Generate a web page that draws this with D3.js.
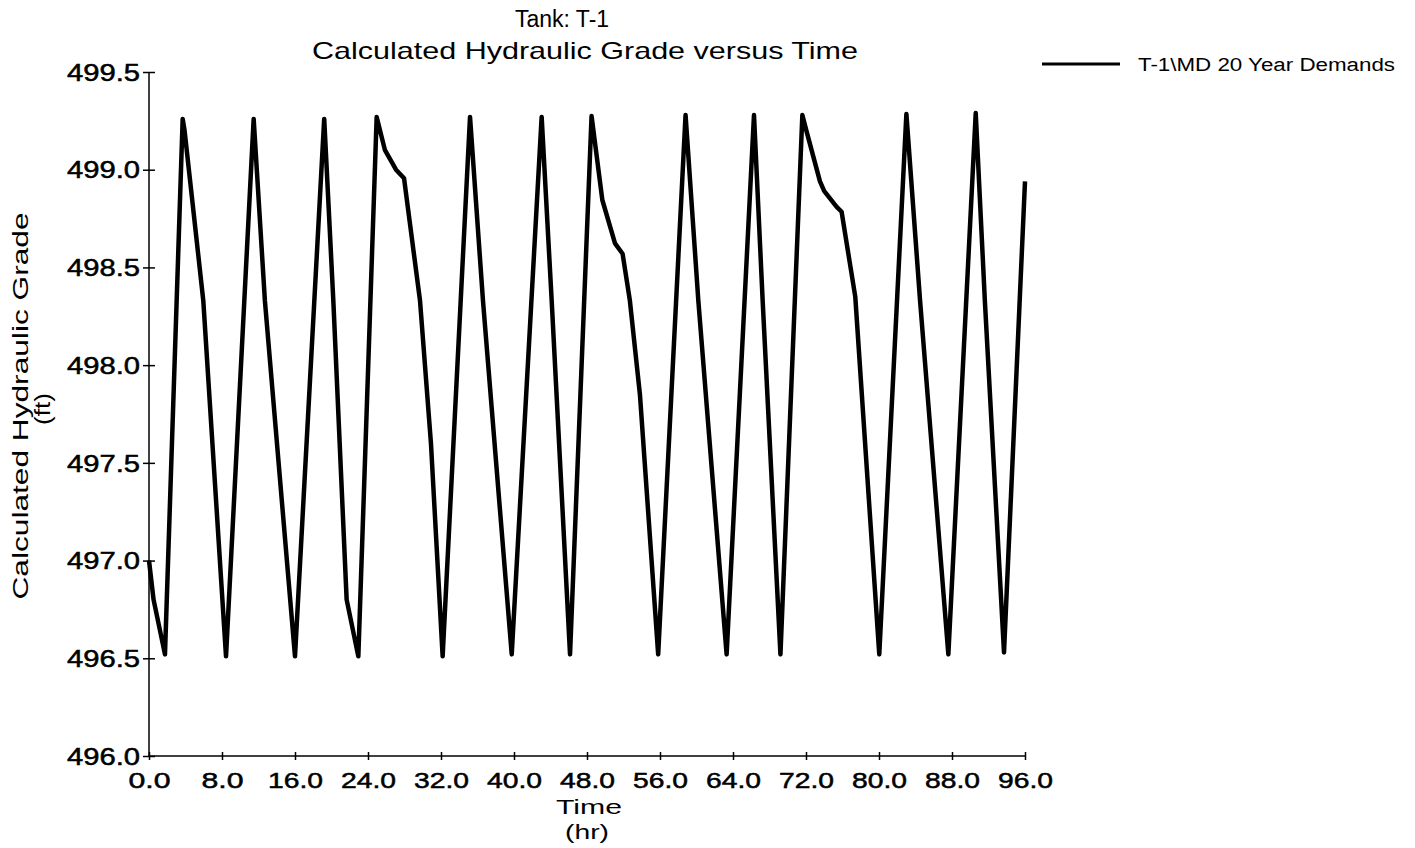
<!DOCTYPE html>
<html>
<head>
<meta charset="utf-8">
<script src="https://cdn.jsdelivr.net/npm/d3@7"></script>
<style>
  body { margin: 0; background: #fff; }
  text { font-family: "Liberation Sans", Arial, sans-serif; fill: #000; }
</style>
</head>
<body>
<div id="chart"></div>
<script>
// values (hours, feet)
var timeHrs = [0, 0.5, 1.75, 3.69, 3.9, 5.95, 8.44, 11.47, 12.7, 16.0,
  19.2, 20.2, 21.66, 22.94, 24.95, 25.86, 27.07, 27.95, 29.7, 30.9, 32.18,
  35.18, 36.6, 39.75, 43.03, 44.13, 46.14, 48.5, 49.68, 51.07, 51.9, 52.7,
  53.8, 55.8, 58.8, 60.2, 63.3, 66.3, 67.25, 69.2, 71.6, 72.07, 73.53, 74.0,
  75.36, 75.9, 77.4, 80.03, 83.0, 84.5, 87.6, 90.6, 91.6, 93.7, 96.0];
var gradeFt = [497.0, 496.8, 496.52, 499.26, 499.2, 498.33, 496.51, 499.26, 498.33, 496.51,
  499.26, 498.33, 496.8, 496.51, 499.27, 499.1, 499.0, 498.956, 498.33, 497.6, 496.51,
  499.27, 498.33, 496.52, 499.27, 498.33, 496.52, 499.275, 498.845, 498.623, 498.57, 498.33,
  497.85, 496.52, 499.28, 498.33, 496.52, 499.28, 498.33, 496.52, 499.28, 499.195, 498.94, 498.89,
  498.81, 498.785, 498.35, 496.52, 499.285, 498.33, 496.52, 499.29, 498.33, 496.53, 498.94];

var xTicks = [0, 8, 16, 24, 32, 40, 48, 56, 64, 72, 80, 88, 96];
var yTicks = [496.0, 496.5, 497.0, 497.5, 498.0, 498.5, 499.0, 499.5];

var titleLines = ["Tank: T-1", "Calculated Hydraulic Grade versus Time"];
var yTitleLines = ["Calculated Hydraulic Grade", "(ft)"];
var xTitleLines = ["Time", "(hr)"];
var seriesName = "T-1\\MD 20 Year Demands";

var svgWidth = 1415;
var svgHeight = 848;

var margin = { top: 72, right: 390, bottom: 92, left: 149 };
var width = svgWidth - margin.left - margin.right;
var height = svgHeight - margin.top - margin.bottom;

var svg = d3.select("#chart")
  .append("svg")
  .attr("width", svgWidth)
  .attr("height", svgHeight);

var chartGroup = svg.append("g")
  .attr("transform", `translate(${margin.left}, ${margin.top})`);

// scanned text is wider than Arial, so stretch each label to its measured width
function stretch(sel, w) {
  sel.each(function() {
    var t = d3.select(this);
    var target = typeof w === "function" ? w(t.text()) : w;
    t.attr("textLength", target).attr("lengthAdjust", "spacingAndGlyphs");
  });
}

var xLinearScale = d3.scaleLinear().domain([0, 96]).range([0, width]);
var yLinearScale = d3.scaleLinear().domain([496, 499.5]).range([height, 0]);

var bottomAxis = d3.axisBottom(xLinearScale)
  .tickValues(xTicks)
  .tickFormat(d3.format(".1f"))
  .tickSize(4)
  .tickPadding(12);
var leftAxis = d3.axisLeft(yLinearScale)
  .tickValues(yTicks)
  .tickFormat(d3.format(".1f"))
  .tickSize(6)
  .tickPadding(3);

var xAxis = chartGroup.append("g")
  .attr("transform", `translate(0, ${height})`)
  .call(bottomAxis);
var yAxis = chartGroup.append("g")
  .call(leftAxis);

// ticks cross the axis line in the original
xAxis.selectAll(".tick line").attr("y1", -4).attr("y2", 4);
yAxis.selectAll(".tick line").attr("x1", -6).attr("x2", 6);
svg.selectAll(".domain").attr("d", null);
xAxis.append("line").attr("x1", 0).attr("x2", width).attr("stroke", "#000").attr("stroke-width", 1.5);
yAxis.append("line").attr("y1", 0).attr("y2", height).attr("stroke", "#000").attr("stroke-width", 1.5);
svg.selectAll(".tick line").attr("stroke", "#000").attr("stroke-width", 1.5);

xAxis.selectAll(".tick text")
  .attr("font-size", 22)
  .attr("font-family", "Liberation Sans, Arial, sans-serif")
  .attr("fill", "#000")
  .attr("stroke", "#000")
  .attr("stroke-width", 0.5);
stretch(xAxis.selectAll(".tick text"), s => s.length > 3 ? 55 : 42);

yAxis.selectAll(".tick text")
  .attr("font-size", 23)
  .attr("font-family", "Liberation Sans, Arial, sans-serif")
  .attr("fill", "#000")
  .attr("stroke", "#000")
  .attr("stroke-width", 0.5)
  .attr("dy", "0.36em");
stretch(yAxis.selectAll(".tick text"), 73);

// the series
var line = d3.line()
  .x((d, i) => xLinearScale(timeHrs[i]))
  .y(d => yLinearScale(d));

chartGroup.append("path")
  .datum(gradeFt)
  .attr("fill", "none")
  .attr("stroke", "#000")
  .attr("stroke-width", 4.5)
  .attr("stroke-linejoin", "round")
  .attr("d", line);

// titles
svg.append("text")
  .attr("x", 562).attr("y", 27)
  .attr("text-anchor", "middle")
  .attr("font-size", 23)
  .text(titleLines[0]);

var t2 = svg.append("text")
  .attr("x", 585).attr("y", 59)
  .attr("text-anchor", "middle")
  .attr("font-size", 24)
  .text(titleLines[1]);
stretch(t2, 546);

var yt1 = svg.append("text")
  .attr("transform", "translate(28, 406) rotate(-90)")
  .attr("text-anchor", "middle")
  .attr("font-size", 22)
  .text(yTitleLines[0]);
stretch(yt1, 387);

var yt2 = svg.append("text")
  .attr("transform", "translate(50, 409) rotate(-90)")
  .attr("text-anchor", "middle")
  .attr("font-size", 22)
  .text(yTitleLines[1]);
stretch(yt2, 32);

var xt1 = svg.append("text")
  .attr("x", 589).attr("y", 814)
  .attr("text-anchor", "middle")
  .attr("font-size", 21)
  .text(xTitleLines[0]);
stretch(xt1, 66);

var xt2 = svg.append("text")
  .attr("x", 587).attr("y", 839)
  .attr("text-anchor", "middle")
  .attr("font-size", 21)
  .text(xTitleLines[1]);
stretch(xt2, 44);

// legend
var legend = svg.append("g");
legend.append("line")
  .attr("x1", 1042).attr("x2", 1120)
  .attr("y1", 64).attr("y2", 64)
  .attr("stroke", "#000")
  .attr("stroke-width", 3);
var lt = legend.append("text")
  .attr("x", 1138).attr("y", 71)
  .attr("font-size", 18)
  .text(seriesName);
stretch(lt, 257);
</script>
</body>
</html>
